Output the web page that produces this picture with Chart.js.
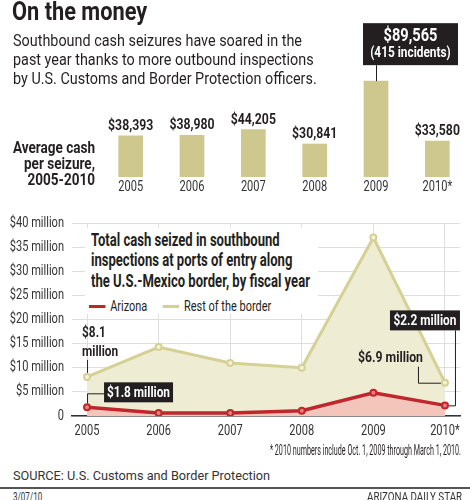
<!DOCTYPE html>
<html>
<head>
<meta charset="utf-8">
<script src="https://cdn.jsdelivr.net/npm/chart.js@4.4.1/dist/chart.umd.min.js"></script>
<style>
  body { margin: 0; background: #fff; }
  #wrap { position: relative; width: 470px; height: 500px; overflow: hidden; color: #231f20;
          font-family: Roboto, "Liberation Sans", sans-serif; }
  canvas { position: absolute; left: 0; }
  #cTop { top: 0; }
  #cBottom { top: 200px; }
  .abs { position: absolute; white-space: nowrap; }
  #title { left: 12px; top: -1px; font-weight: bold; font-size: 25px; line-height: 26px; }
  #sub { left: 13px; top: 31px; font-size: 16px; line-height: 19px; }
  #avgLabel { right: 375px; top: 139.5px; text-align: right; font-weight: bold; font-size: 16px; line-height: 16px; }
  #totBox { left: 85px; top: 228px; width: 233px; height: 86px; background: #fff; }
  #totTitle { position: absolute; left: 6px; top: 1.6px; font-weight: bold; font-size: 18px; line-height: 20.5px; white-space: nowrap; }
  #legend { position: absolute; left: 4px; top: 70px; font-size: 14px; line-height: 16px; white-space: nowrap; }
  #legend span.sw { display: inline-block; width: 21px; height: 3px; vertical-align: middle; margin-right: 6px; position: relative; top: -1px; }
  #legend span.it { margin-right: 20px; }
  #note { right: 9px; top: 442px; font-size: 14px; line-height: 16px; }
  #source { left: 13px; top: 468.5px; font-size: 13px; line-height: 14px; color: #333; }
  #rule { position: absolute; left: 0; top: 487px; width: 470px; height: 2px; background: #555; }
  #date { left: 13px; top: 489.5px; font-size: 13px; line-height: 14px; color: #333; }
  #paper { right: 8px; top: 489.5px; font-size: 13px; line-height: 14px; color: #333; }
</style>
</head>
<body>
<div id="wrap">
  <canvas id="cTop" width="470" height="200"></canvas>
  <canvas id="cBottom" width="470" height="246"></canvas>
  <div class="abs" id="title">On the money</div>
  <div class="abs" id="sub">Southbound cash seizures have soared in the<br>past year thanks to more outbound inspections<br>by U.S. Customs and Border Protection officers.</div>
  <div class="abs" id="avgLabel">Average cash<br>per seizure,<br>2005-2010</div>
  <div class="abs" id="totBox">
    <div id="totTitle">Total cash seized in southbound<br>inspections at ports of entry along<br>the U.S.-Mexico border, by fiscal year</div>
    <div id="legend"></div>
  </div>
  <div class="abs" id="note">* 2010 numbers include Oct. 1, 2009 through March 1, 2010.</div>
  <div class="abs" id="source">SOURCE: U.S. Customs and Border Protection</div>
  <div id="rule"></div>
  <div class="abs" id="date">3/07/10</div>
  <div class="abs" id="paper">ARIZONA DAILY STAR</div>
</div>
<script>
const yearLabels = ['2005', '2006', '2007', '2008', '2009', '2010*'];
const fiscalYears = [2005, 2006, 2007, 2008, 2009, 2010];
const avgCash = [38393, 38980, 44205, 30841, 89565, 33580];
const incidents2009 = 415;
const arizona = [1.8, 0.6, 0.6, 1.1, 4.8, 2.2];       // millions
const restOfBorder = [8.1, 14.3, 11.0, 10.0, 37.0, 6.9]; // millions
const moneyTicks = [0, 5, 10, 15, 20, 25, 30, 35, 40];

const FONT = 'Roboto, "Liberation Sans", sans-serif';
const INK = '#231f20';
const SX = 0.79; // the paper uses a condensed face, squeeze Roboto to match

// draw horizontally squeezed text on a canvas
function squeeze(ctx, txt, x, y, font, align, color, sx) {
    ctx.save();
    ctx.font = font;
    ctx.fillStyle = color || INK;
    ctx.textAlign = align || 'center';
    ctx.textBaseline = 'middle';
    ctx.translate(x, y);
    ctx.scale(sx || SX, 1);
    ctx.fillText(txt, 0, 0);
    ctx.restore();
}

// labels over the bars, the 2009 one in a black box, years under them
const barLabels = {
    id: 'barLabels',
    afterDatasetsDraw(chart) {
        const ctx = chart.ctx;
        const bars = chart.getDatasetMeta(0).data;
        const xs = chart.scales.x;
        const peak = avgCash.indexOf(Math.max(...avgCash));
        bars.forEach((bar, i) => {
            const txt = '$' + avgCash[i].toLocaleString('en-US');
            squeeze(ctx, yearLabels[i], xs.getPixelForTick(i), chart.chartArea.bottom + 10.5, '14px ' + FONT, 'center', '#333');
            if (i === peak) {
                const bx = bar.x - 13, by = bar.y - 58, bw = 95, bh = 42;
                ctx.save();
                ctx.strokeStyle = INK;
                ctx.lineWidth = 1;
                ctx.beginPath();
                ctx.moveTo(bar.x + 0.5, by + bh);
                ctx.lineTo(bar.x + 0.5, bar.y);
                ctx.stroke();
                ctx.fillStyle = INK;
                ctx.fillRect(bx, by, bw, bh);
                ctx.restore();
                squeeze(ctx, txt, bx + bw / 2, by + 13, 'bold 18.5px ' + FONT, 'center', '#fff');
                squeeze(ctx, '(' + incidents2009 + ' incidents)', bx + bw / 2, by + 30, 'bold 15px ' + FONT, 'center', '#fff');
            } else {
                squeeze(ctx, txt, bar.x, bar.y - 10, 'bold 15.5px ' + FONT, 'center', INK);
            }
        });
    }
};

new Chart(document.getElementById('cTop'), {
    type: 'bar',
    data: {
        labels: yearLabels,
        datasets: [{
            label: 'Average cash per seizure',
            data: avgCash,
            backgroundColor: '#cec78e',
            barThickness: 24
        }]
    },
    options: {
        responsive: false,
        animation: false,
        layout: { padding: { left: 100, right: 2, top: 70, bottom: 0 } },
        plugins: { legend: { display: false }, tooltip: { enabled: false } },
        scales: {
            x: {
                grid: { display: false },
                border: { display: false },
                ticks: { display: false },
                afterFit: s => { s.height = 23; }
            },
            y: { display: false, min: 0, max: 100000 }
        }
    },
    plugins: [barLabels]
});

// callouts and axis labels on the line chart
function box(ctx, txt, x, y, w, h) {
    ctx.fillStyle = INK;
    ctx.fillRect(x, y, w, h);
    squeeze(ctx, txt, x + w / 2, y + h / 2 + 0.5, 'bold 15px ' + FONT, 'center', '#fff');
}
function path(ctx, pts) {
    ctx.beginPath();
    pts.forEach((p, i) => i ? ctx.lineTo(p[0], p[1]) : ctx.moveTo(p[0], p[1]));
    ctx.stroke();
}
const fmt = v => '$' + v.toFixed(1) + ' million';

const callouts = {
    id: 'callouts',
    afterDatasetsDraw(chart) {
        const ctx = chart.ctx;
        const area = chart.chartArea;
        const xs = chart.scales.x, ys = chart.scales.y;
        ys.ticks.forEach(t => {
            const lbl = t.value === 0 ? '0' : '$' + t.value + ' million';
            squeeze(ctx, lbl, area.left - 8, ys.getPixelForValue(t.value), '14px ' + FONT, 'right', '#333');
        });
        xs.ticks.forEach(t => {
            squeeze(ctx, yearLabels[fiscalYears.indexOf(t.value)], xs.getPixelForValue(t.value), area.bottom + 15, '14px ' + FONT, 'center', '#333');
        });

        const az = chart.getDatasetMeta(0).data;
        const rb = chart.getDatasetMeta(1).data;
        const last = fiscalYears.length - 1;
        ctx.save();
        ctx.strokeStyle = INK;
        ctx.lineWidth = 1;

        let p = rb[0];
        squeeze(ctx, '$' + restOfBorder[0].toFixed(1), p.x - 5, p.y - 44, 'bold 15px ' + FONT, 'left');
        squeeze(ctx, 'million', p.x - 5, p.y - 25, 'bold 15px ' + FONT, 'left');
        path(ctx, [[p.x + 0.5, p.y - 17], [p.x + 0.5, p.y - 4]]);

        p = az[0];
        path(ctx, [[p.x + 0.5, p.y - 4], [p.x + 0.5, p.y - 13.5], [p.x + 17, p.y - 13.5]]);
        box(ctx, fmt(arizona[0]), p.x + 17, p.y - 25, 69, 20);

        p = az[last];
        path(ctx, [[p.x + 4, p.y + 0.5], [p.x + 10.5, p.y + 0.5], [p.x + 10.5, p.y - 75]]);
        box(ctx, fmt(arizona[last]), p.x - 55, p.y - 95, 70, 20);

        p = rb[last];
        path(ctx, [[p.x - 4, p.y + 0.5], [p.x - 26.5, p.y + 0.5], [p.x - 26.5, p.y - 16]]);
        squeeze(ctx, fmt(restOfBorder[last]), p.x - 22, p.y - 25, 'bold 15.5px ' + FONT, 'right');
        ctx.restore();
    }
};

const lineChart = new Chart(document.getElementById('cBottom'), {
    type: 'line',
    data: {
        datasets: [{
            label: 'Arizona',
            data: fiscalYears.map((y, i) => ({ x: y, y: arizona[i] })),
            borderColor: '#c0272d',
            backgroundColor: '#f4c6bb',
            fill: 'origin',
            borderWidth: 3.5,
            pointRadius: 3,
            pointBorderWidth: 2,
            pointBackgroundColor: '#e5807c',
            pointBorderColor: '#c0272d',
            tension: 0
        }, {
            label: 'Rest of the border',
            data: fiscalYears.map((y, i) => ({ x: y, y: restOfBorder[i] })),
            borderColor: '#d5d093',
            backgroundColor: '#efecd4',
            fill: 'origin',
            borderWidth: 3,
            pointRadius: 3,
            pointBorderWidth: 2,
            pointBackgroundColor: '#f4f2de',
            pointBorderColor: '#d5d093',
            tension: 0
        }]
    },
    options: {
        responsive: false,
        animation: false,
        layout: { padding: { top: 23, right: 10, left: 0, bottom: 0 } },
        plugins: { legend: { display: false }, tooltip: { enabled: false } },
        scales: {
            x: {
                type: 'linear',
                min: 2004.79,
                max: 2010.21,
                afterBuildTicks: s => { s.ticks = fiscalYears.map(v => ({ value: v })); },
                grid: { color: '#dedede', drawTicks: false },
                border: { color: '#333', width: 1.5 },
                ticks: { display: false },
                afterFit: s => { s.height = 30; }
            },
            y: {
                min: 0,
                max: 40,
                afterBuildTicks: s => { s.ticks = moneyTicks.map(v => ({ value: v })); },
                grid: { color: '#dedede', drawTicks: false },
                border: { display: false },
                ticks: { display: false },
                afterFit: s => { s.width = 72; }
            }
        }
    },
    plugins: [callouts]
});

// legend in the title block, built from the datasets
document.getElementById('legend').innerHTML = lineChart.data.datasets.map(ds =>
    '<span class="it"><span class="sw" style="background:' + ds.borderColor + '"></span>' + ds.label + '</span>'
).join('');

// squeeze the html text blocks to the condensed widths of the original
function fit(id, w, origin) {
    const el = document.getElementById(id);
    el.style.transformOrigin = origin;
    el.style.transform = 'scaleX(' + (w / el.scrollWidth) + ')';
}
fit('title', 135, '0 0');
fit('sub', 304, '0 0');
fit('avgLabel', 82, '100% 0');
fit('totTitle', 219, '0 0');
fit('legend', 198, '0 0');
fit('note', 191, '100% 0');
fit('source', 257, '0 0');
fit('date', 29, '0 0');
fit('paper', 95, '100% 0');
</script>
</body>
</html>
